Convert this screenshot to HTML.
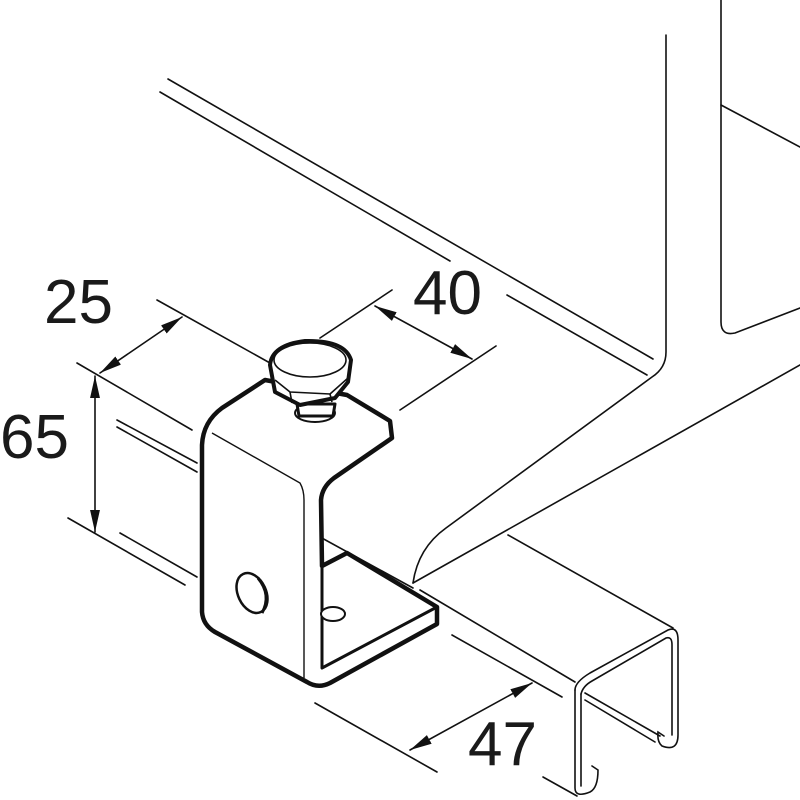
<!DOCTYPE html>
<html><head><style>
html,body{margin:0;padding:0;background:#fff;}
svg{display:block;}
text{font-family:"Liberation Sans",sans-serif;font-size:62px;fill:#1a1a1a;}
</style></head><body>
<svg width="800" height="800" viewBox="0 0 800 800" xmlns="http://www.w3.org/2000/svg">
<defs>
<marker id="ar" viewBox="0 0 10 10" refX="10" refY="5" markerWidth="12" markerHeight="12" markerUnits="userSpaceOnUse" orient="auto-start-reverse"><path d="M0,1.5 L10,5 L0,8.5 Z" fill="#111"/></marker>
<marker id="ar2" viewBox="0 0 20 10" refX="20" refY="5" markerWidth="22" markerHeight="11" markerUnits="userSpaceOnUse" orient="auto-start-reverse"><path d="M0,0.5 L20,5 L0,9.5 Z" fill="#111"/></marker>
</defs>
<g fill="none" stroke="#111" stroke-width="1.6" stroke-linecap="round">
<!-- top beam plate -->
<path d="M168,79 L653,359"/>
<path d="M160,92 L450,261"/>
<path d="M507,295 L647,375"/>
<path d="M666,35 L666,352 Q666,368 652,377 L446,528 Q418,548 413,583"/>
<path d="M413,583 L800,365"/>
<path d="M721,0 L721,322 Q721,336 735,333 L800,308"/>
<path d="M721,105 L800,147"/>
<!-- channel -->
<path d="M508,535 L673,628"/>
<path d="M420,590 L575,682"/>
<path d="M452,635 L562,697"/>
<path d="M585,693 L660,736"/>
<path d="M585,700 L655,742"/>
<path d="M543,777 L577,796"/>
<path d="M575,690 Q575,682 590,673 L668,630 Q678,626 678,640 L678,735 Q678,752 662,746 Q657,742 658,732 L664,736"/>
<path d="M575,690 L575,788 Q575,798 590,792 Q598,788 598,770 L592,766"/>
<path d="M581,694 Q583,686 592,681 L666,638 Q672,636 672,645 L672,735"/>
<path d="M581,694 L581,786"/>
<!-- left channel lines -->
<path d="M117,420 L197,463"/>
<path d="M117,427 L197,472"/>
<path d="M120,533 L197,577"/>
<path d="M207,433 L300,485"/>
<path d="M207,450 L298,502"/>
<path d="M320,537 L413,588"/>
<!-- extension lines -->
<path d="M157,300 L270,363"/>
<path d="M77,363 L192,430"/>
<path d="M68,518 L185,585"/>
<path d="M320,338 L392,290"/>
<path d="M400,410 L496,346"/>
<path d="M315,703 L437,772"/>
<!-- dimension lines -->
<path d="M100,373 L182,317" marker-start="url(#ar2)" marker-end="url(#ar2)"/>
<path d="M95,376 L95,532" marker-start="url(#ar2)" marker-end="url(#ar2)"/>
<path d="M375,306 L472,359" marker-start="url(#ar2)" marker-end="url(#ar2)"/>
<path d="M410,750 L532,683" marker-start="url(#ar2)" marker-end="url(#ar2)"/>
</g>
<!-- bracket -->
<g fill="#fff" stroke="#111" stroke-width="4.5" stroke-linejoin="round">
<path d="M265,380 L222,408 Q203,422 202,445 L202,612 Q203,625 215,632 L307,682 Q318,689 330,683 L437,624 L437,607 L347,553 L322,566 L321,500 Q322,487 334,478 L392,438 L390,421 L347,395 Z"/>
<path d="M322,566 L347,553 L437,607 L322,668 Z" fill="none" stroke-width="3"/>
</g>
<g fill="none" stroke="#111" stroke-width="1.4">
<path d="M212,433 L300,483 Q304,490 304,500 L304,678"/>
<path d="M322,566 L322,668"/>
</g>
<!-- holes -->
<ellipse cx="252" cy="593" rx="14" ry="21" transform="rotate(-25 252 593)" fill="#fff" stroke="#111" stroke-width="2.5"/>
<path d="M258,578 Q272,595 262,613" fill="none" stroke="#111" stroke-width="3"/>
<ellipse cx="333" cy="614" rx="12" ry="7" fill="#fff" stroke="#111" stroke-width="2"/>
<!-- bolt -->
<g stroke="#111" fill="#fff" stroke-linejoin="round">
<ellipse cx="315" cy="413" rx="20" ry="9" stroke-width="2"/>
<path d="M297,404 L299,416 L333,416 L335,404 Z" stroke-width="3"/>
<path d="M270,365 Q272,345 305,341 Q345,340 351,360 L348,382 L335,398 L300,405 L275,392 Z" stroke-width="4"/>
<ellipse cx="310" cy="360" rx="36" ry="17" stroke-width="1.6"/>
<path d="M275,380 L290,392 L330,394 L348,378" fill="none" stroke-width="1.6"/>
<path d="M290,392 L292,403 M330,394 L332,402" fill="none" stroke-width="1.6"/>
</g>
<text x="44" y="323">25</text>
<text x="413" y="314">40</text>
<text x="0" y="458">65</text>
<text x="468" y="765">47</text>
</svg>
</body></html>
